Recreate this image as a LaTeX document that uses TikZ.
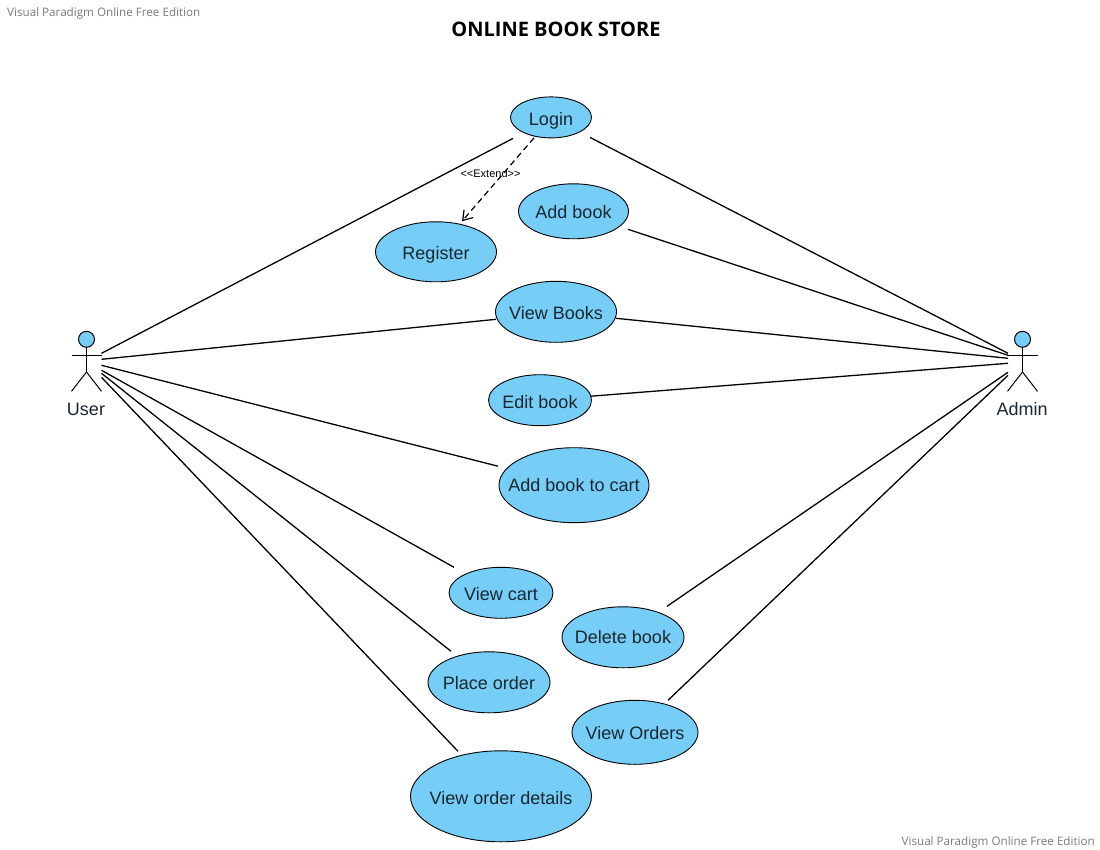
\documentclass[tikz,border=0pt]{standalone}
\usepackage{fontspec}
\setmainfont{Liberation Sans}
\newfontfamily\titlefont{Open Sans}
\usetikzlibrary{shapes.geometric,arrows.meta}
\definecolor{ucfill}{HTML}{76CEF6}
\definecolor{uctext}{HTML}{1A2630}
\definecolor{wmgray}{HTML}{7A7A7A}
\tikzset{
  usecase/.style={ellipse,draw=black,fill=ucfill,line width=0.9pt,inner sep=0pt,outer sep=0pt,
    text=uctext,font=\fontsize{18}{20}\selectfont},
  actorbox/.style={inner sep=0pt,outer sep=0pt,minimum width=30pt,minimum height=60pt},
  actorline/.style={line width=1pt,draw=black},
  actorlabel/.style={inner sep=0pt,text=uctext,font=\fontsize{18}{20}\selectfont},
  assoc/.style={line width=1.3pt,draw=black},
  extendline/.style={line width=1.2pt,draw=black,dash pattern=on 6pt off 4pt,
    -{Straight Barb[length=9pt,width=12pt,line width=1.2pt]}},
  extendlabel/.style={inner sep=0pt,font=\fontsize{11}{12}\selectfont},
  watermark/.style={inner sep=0pt,text=wmgray,font=\titlefont\fontsize{11.65}{14}\selectfont},
  titlelabel/.style={inner sep=0pt,font=\titlefont\bfseries\fontsize{20}{24}\selectfont}
}
% name, cx, cy, width, height, baseline drop below centre, text
\newcommand{\usecasenode}[7]{\node[usecase,minimum width=#4pt,minimum height=#5pt] (#1) at (#2,#3) {\smash{\raisebox{-#6pt}{\makebox[0pt]{#7}}}};}
\newcommand{\stickman}[1]{
  \fill[ucfill] ([shift={(0,-22)}]#1.center) circle (8);
  \draw[actorline] ([shift={(0,-22)}]#1.center) circle (8);
  \draw[actorline] ([shift={(0,-14)}]#1.center) -- ([shift={(0,10.7)}]#1.center);
  \draw[actorline] ([shift={(-15,-6)}]#1.center) -- ([shift={(15,-6)}]#1.center);
  \draw[actorline] ([shift={(-15,30)}]#1.center) -- ([shift={(0,10.7)}]#1.center) -- ([shift={(15,30)}]#1.center);
}
\begin{document}
\begin{tikzpicture}[x=1pt,y=-1pt]
\useasboundingbox (0,0) rectangle (1100,850);
\fill[white] (0,0) rectangle (1100,850);
\node[watermark,anchor=west] (wmtop) at (7,13) {Visual Paradigm Online Free Edition};
\node[watermark,anchor=east] (wmbot) at (1095,842) {Visual Paradigm Online Free Edition};
\node[titlelabel] (title) at (556,29) {ONLINE BOOK STORE};

\node[actorbox] (user) at (86.5,361.3) {};
\node[actorbox] (admin) at (1022.5,361.3) {};
\stickman{user}
\stickman{admin}
\node[actorlabel] (userlabel) at (86,409) {User};
\node[actorlabel] (adminlabel) at (1022,409) {Admin};

\usecasenode{login}{551}{117.4}{81}{41}{8.6}{Login}
\usecasenode{addbook}{573.5}{211.3}{110}{55}{6.8}{Add book}
\usecasenode{register}{436}{251.8}{121}{60}{8.2}{Register}
\usecasenode{viewbooks}{556}{311.8}{121}{61}{7.6}{View Books}
\usecasenode{editbook}{540}{400.2}{103}{51}{7.9}{Edit book}
\usecasenode{addcart}{574}{485.2}{150}{75}{6.5}{Add book to cart}
\usecasenode{viewcart}{501}{592.8}{104}{51}{7.6}{View cart}
\usecasenode{deletebook}{623}{637.3}{122}{61}{6.4}{Delete book}
\usecasenode{placeorder}{489}{682.3}{122}{61}{7.1}{Place order}
\usecasenode{vieworders}{635}{732.3}{126}{64}{7.3}{View Orders}
\usecasenode{orderdetails}{501}{796.3}{181}{91}{7.8}{View order details}

\draw[assoc] ([shift={(15,-8)}]user.center) -- ([shift={(-38,21)}]login.center);
\draw[assoc] ([shift={(15,-2)}]user.center) -- ([shift={(-60,7.5)}]viewbooks.center);
\draw[assoc] ([shift={(15,4)}]user.center) -- ([shift={(-76,-19)}]addcart.center);
\draw[assoc] ([shift={(15,9)}]user.center) -- ([shift={(-47,-25.5)}]viewcart.center);
\draw[assoc] ([shift={(15,12)}]user.center) -- ([shift={(-38,-31)}]placeorder.center);
\draw[assoc] ([shift={(15,16)}]user.center) -- ([shift={(-43,-45)}]orderdetails.center);

\draw[assoc] ([shift={(-14.5,-8)}]admin.center) -- ([shift={(39,20)}]login.center);
\draw[assoc] ([shift={(-14.5,-6)}]admin.center) -- ([shift={(54.5,18)}]addbook.center);
\draw[assoc] ([shift={(-14.5,-3)}]admin.center) -- ([shift={(60,6.5)}]viewbooks.center);
\draw[assoc] ([shift={(-14.5,2)}]admin.center) -- ([shift={(51,-4)}]editbook.center);
\draw[assoc] ([shift={(-14.5,11)}]admin.center) -- ([shift={(44,-31)}]deletebook.center);
\draw[assoc] ([shift={(-14.5,14)}]admin.center) -- ([shift={(33,-32)}]vieworders.center);

\draw[extendline] ([shift={(-17,20.5)}]login.center) -- ([shift={(26,-30.5)}]register.center);
\node[extendlabel] (extendtext) at (490.5,173.5) {{<}{<}Extend{>}{>}};
\end{tikzpicture}
\end{document}
